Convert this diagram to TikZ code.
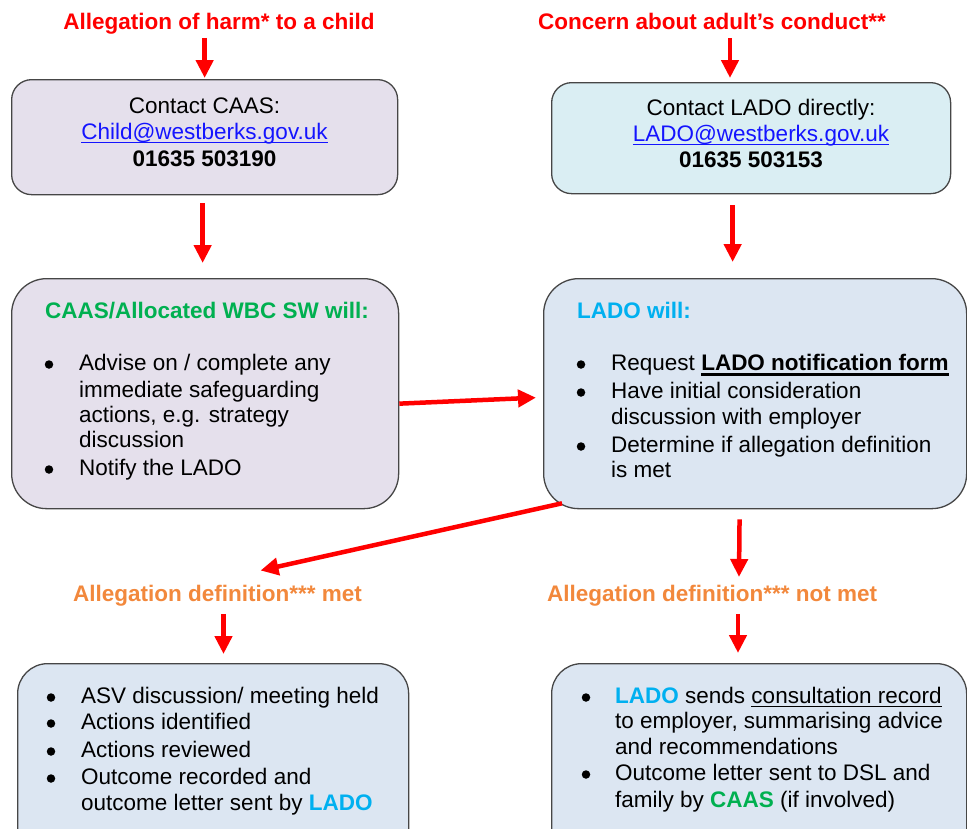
\documentclass[tikz,border=0pt]{standalone}
\usepackage{fontspec}
\setmainfont{Liberation Sans}
\usetikzlibrary{arrows.meta}
\definecolor{arrowred}{RGB}{255,0,0}
\definecolor{sgreen}{RGB}{0,176,80}
\definecolor{ladoblue}{RGB}{0,176,240}
\definecolor{deforange}{RGB}{242,136,60}
\definecolor{linkblue}{RGB}{20,20,255}
\definecolor{lavfill}{RGB}{229,224,236}
\definecolor{aquafill}{RGB}{218,238,243}
\definecolor{bluefill}{RGB}{220,230,242}
\definecolor{edgegray}{RGB}{70,70,70}
\newcommand\bodysize{\fontsize{22.5}{26}\selectfont}
\newcommand\myunder[3]{\leavevmode\setbox0\hbox{#3}\rlap{\rule[-#1]{\wd0}{#2}}\box0}
\begin{document}
\begin{tikzpicture}[x=1pt,y=-1pt,
  roundbox/.style={draw=edgegray, line width=1.3pt, rounded corners=#1, anchor=north west, inner sep=0pt},
  txt/.style={inner sep=0pt, anchor=base west, font=\bodysize},
  ctxt/.style={inner sep=0pt, anchor=base, font=\bodysize},
  bul/.style={circle, fill=black, inner sep=0pt, minimum size=8.5pt, yshift=5.5pt},
  redarrow/.style={draw=arrowred, line width=4.5pt, -{Triangle[length=18pt,width=17pt]}}]
\useasboundingbox (0,0) rectangle (967,828);
\clip (0,0) rectangle (967,828);

% boxes
\node[roundbox=20pt, fill=lavfill, minimum width=386pt, minimum height=115pt] (b1) at (11,79) {};
\node[roundbox=20pt, fill=aquafill, minimum width=399pt, minimum height=111pt] (b2) at (551,82) {};
\node[roundbox=35pt, fill=lavfill, minimum width=387pt, minimum height=230pt] (b3) at (11,278) {};
\node[roundbox=35pt, fill=bluefill, minimum width=423pt, minimum height=230pt] (b4) at (543,278) {};
\node[roundbox=30pt, fill=bluefill, minimum width=391pt, minimum height=200pt] (b5) at (17,663) {};
\node[roundbox=30pt, fill=bluefill, minimum width=415pt, minimum height=200pt] (b6) at (551,663) {};

% headings
\node[ctxt, text=arrowred, font=\bodysize\bfseries] (h1) at (219,29) {Allegation of harm* to a child};
\node[ctxt, text=arrowred, font=\bodysize\bfseries] (h2) at (712,29) {Concern about adult’s conduct**};
\node[ctxt, text=deforange, font=\bodysize\bfseries] (m1) at (217.5,601) {Allegation definition*** met};
\node[ctxt, text=deforange, font=\bodysize\bfseries] (n1) at (712,601) {Allegation definition*** not met};

% box 1 text
\node[ctxt] (t11) at (204.5,113) {Contact CAAS:};
\node[ctxt, text=linkblue] (t12) at (204.5,139) {\myunder{4.3pt}{1.5pt}{Child@westberks.gov.uk}};
\node[ctxt, font=\bodysize\bfseries] (t13) at (204.5,166) {01635 503190};

% box 2 text
\node[ctxt] (t21) at (761,115) {Contact LADO directly:};
\node[ctxt, text=linkblue] (t22) at (761,141) {\myunder{4.3pt}{1.5pt}{LADO@westberks.gov.uk}};
\node[ctxt, font=\bodysize\bfseries] (t23) at (751,167) {01635 503153};

% box 3 text
\node[txt, text=sgreen, font=\bodysize\bfseries] (t30) at (45,318) {CAAS/Allocated WBC SW will:};
\node[bul] (u31) at (49,370) {};
\node[txt] (t31) at (79,370) {Advise on / complete any};
\node[txt] (t32) at (79,397) {immediate safeguarding};
\node[txt] (t33) at (79,422) {actions, e.g. strategy};
\node[txt] (t34) at (79,447) {discussion};
\node[bul] (u35) at (49,475) {};
\node[txt] (t35) at (79,475) {Notify the LADO};

% box 4 text
\node[txt, text=ladoblue, font=\bodysize\bfseries] (t40) at (577,318) {LADO will:};
\node[bul] (u41) at (581,370) {};
\node[txt] (t41) at (611,370) {Request \myunder{5.5pt}{2.2pt}{\bfseries LADO notification form}};
\node[bul] (u42) at (581,398) {};
\node[txt] (t42) at (611,398) {Have initial consideration};
\node[txt] (t43) at (611,424) {discussion with employer};
\node[bul] (u44) at (581,452) {};
\node[txt] (t44) at (611,452) {Determine if allegation definition};
\node[txt] (t45) at (611,477) {is met};

% box 5 text
\node[bul] (u51) at (51,703) {};
\node[txt] (t51) at (81,703) {ASV discussion/ meeting held};
\node[bul] (u52) at (51,729) {};
\node[txt] (t52) at (81,729) {Actions identified};
\node[bul] (u53) at (51,757) {};
\node[txt] (t53) at (81,757) {Actions reviewed};
\node[bul] (u54) at (51,784) {};
\node[txt] (t54) at (81,784) {Outcome recorded and};
\node[txt] (t55) at (81,810) {outcome letter sent by \textcolor{ladoblue}{\bfseries LADO}};

% box 6 text
\node[bul] (u61) at (586,703) {};
\node[txt] (t61) at (615,703) {\textcolor{ladoblue}{\bfseries LADO} sends \myunder{4pt}{1.5pt}{consultation record}};
\node[txt] (t62) at (615,728) {to employer, summarising advice};
\node[txt] (t63) at (615,754) {and recommendations};
\node[bul] (u64) at (586,780) {};
\node[txt] (t64) at (615,780) {Outcome letter sent to DSL and};
\node[txt] (t65) at (615,807) {family by \textcolor{sgreen}{\bfseries CAAS} (if involved)};

% arrows
\draw[redarrow, shorten <=4pt, shorten >=1pt] (h1.south -| b1.north) -- (b1.north);
\draw[redarrow, shorten <=9pt, shorten >=4pt] ([xshift=18pt]h2.south) -- ([xshift=18pt]h2.south |- b2.north);
\draw[redarrow, shorten <=8pt, shorten >=15pt] ([xshift=-2pt]b1.south) -- ([xshift=-2pt]b1.south |- b3.north);
\draw[redarrow, shorten <=11pt, shorten >=16pt] ([xshift=-18.5pt]b2.south) -- ([xshift=-18.5pt]b2.south |- b4.north);
\draw[redarrow] ([yshift=-10pt]b3.east) -- ([xshift=-7pt,yshift=-4pt]b4.west);
\draw[redarrow] ([xshift=19pt,yshift=6pt]b4.south west) -- ([xshift=43pt,yshift=14pt]m1.north);
\draw[redarrow, shorten <=10pt] ([xshift=-15.5pt]b4.south) -- ([xshift=27pt,yshift=7.5pt]n1.north);
\draw[redarrow, shorten <=8pt, shorten >=9pt] ([xshift=6pt]m1.south) -- ([xshift=6pt]m1.south |- b5.north);
\draw[redarrow, shorten <=8pt, shorten >=10pt] ([xshift=26pt]n1.south) -- ([xshift=26pt]n1.south |- b6.north);
\end{tikzpicture}
\end{document}
